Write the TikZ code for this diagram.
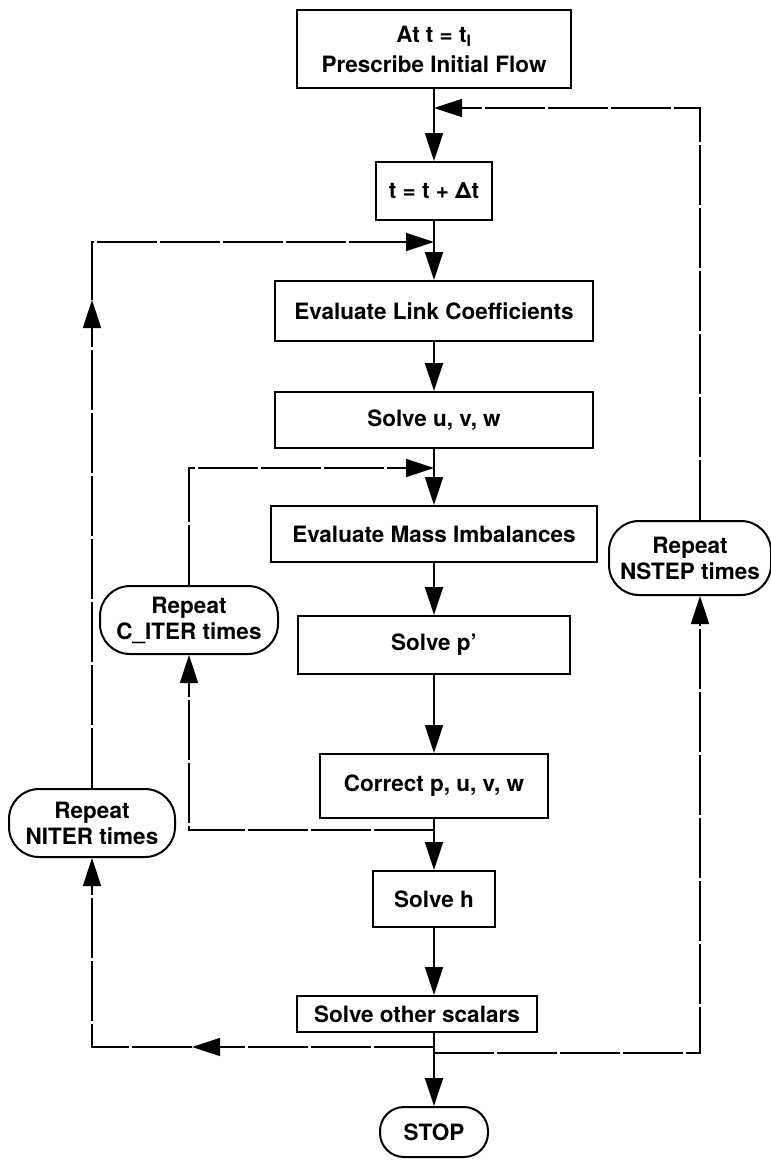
\documentclass[tikz,border=0pt]{standalone}
\usepackage{fontspec}
\setmainfont{TeX Gyre Heros}
\usetikzlibrary{arrows.meta}

\tikzset{
  >={Triangle[length=28pt,width=18pt]},
  box/.style={draw, line width=2pt, inner sep=0pt, align=center,
    font=\fontsize{22.5}{26}\selectfont\bfseries},
  pill/.style={box, rounded corners=30pt},
  flow/.style={line width=2pt, ->},
  back/.style={line width=1.5pt, dash pattern=on 60pt off 3pt}
}

\begin{document}
\begin{tikzpicture}[x=1pt,y=-1pt]
\useasboundingbox (0,0) rectangle (771,1160);

% main column
\node[box, minimum width=274pt, minimum height=78pt] (start) at (434,49)
  {At t = t\textsubscript{I}\\[4pt] Prescribe Initial Flow};
\node[box, minimum width=116pt, minimum height=58pt] (tstep) at (434,191) {t = t + Δt};
\node[box, minimum width=318pt, minimum height=60pt] (link) at (434,311) {Evaluate Link Coefficients};
\node[box, minimum width=318pt, minimum height=56pt] (uvw) at (434,420) {Solve u, v, w};
\node[box, minimum width=326pt, minimum height=56pt] (mass) at (434,534) {Evaluate Mass Imbalances};
\node[box, minimum width=272pt, minimum height=58pt] (pp) at (434,645) {Solve p'};
\node[box, minimum width=228pt, minimum height=64pt] (corr) at (434,786) {Correct p, u, v, w};
\node[box, minimum width=122pt, minimum height=56pt] (solveh) at (434,899) {Solve h};
\node[box, minimum width=240pt, minimum height=36pt] (scal) at (417,1014) {Solve other scalars};
\node[pill, minimum width=108pt, minimum height=50pt, rounded corners=24pt] (stop) at (434,1132) {STOP};

% loop counters
\node[pill, minimum width=178pt, minimum height=68pt] (citer) at (189,620) {Repeat\\C\_ITER times};
\node[pill, minimum width=166pt, minimum height=68pt] (niter) at (92,823) {Repeat\\NITER times};
\node[pill, minimum width=162pt, minimum height=74pt] (nstep) at (690,558) {Repeat\\NSTEP times};

% join and split points on the column
\coordinate (jN) at (434,108);
\coordinate (jI) at (434,242);
\coordinate (jC) at (434,468);
\coordinate (sC) at (434,830);
\coordinate (sI) at (434,1047);
\coordinate (sN) at (434,1053);
\coordinate (aI) at (192,1047);
\coordinate (bI) at (92,300);
\coordinate (cN) at (700,1053);

\draw[flow] (start) -- (tstep);
\draw[flow] (tstep) -- (link);
\draw[flow] (link) -- (uvw);
\draw[flow] (uvw) -- (mass);
\draw[flow] (mass) -- (pp);
\draw[flow] (pp) -- (corr);
\draw[flow] (corr) -- (solveh);
\draw[flow] (solveh) -- (solveh |- scal.north);
\draw[flow] (solveh |- scal.south) -- (stop);

% C_ITER loop
\draw[back, ->] (sC) -| (citer.south);
\draw[back, ->] (citer.north) |- (jC);

% NITER loop
\draw[back, ->] (sI) -- (aI);
\draw[back, ->] (aI) -| (niter.south);
\draw[back, ->] (niter.north) -- (bI);
\draw[back, ->] (bI) |- (jI);

% NSTEP loop
\draw[back, ->] (sN) -- (cN) -- (cN |- nstep.south);
\draw[back, ->] (cN |- nstep.north) |- (jN);
\end{tikzpicture}
\end{document}
